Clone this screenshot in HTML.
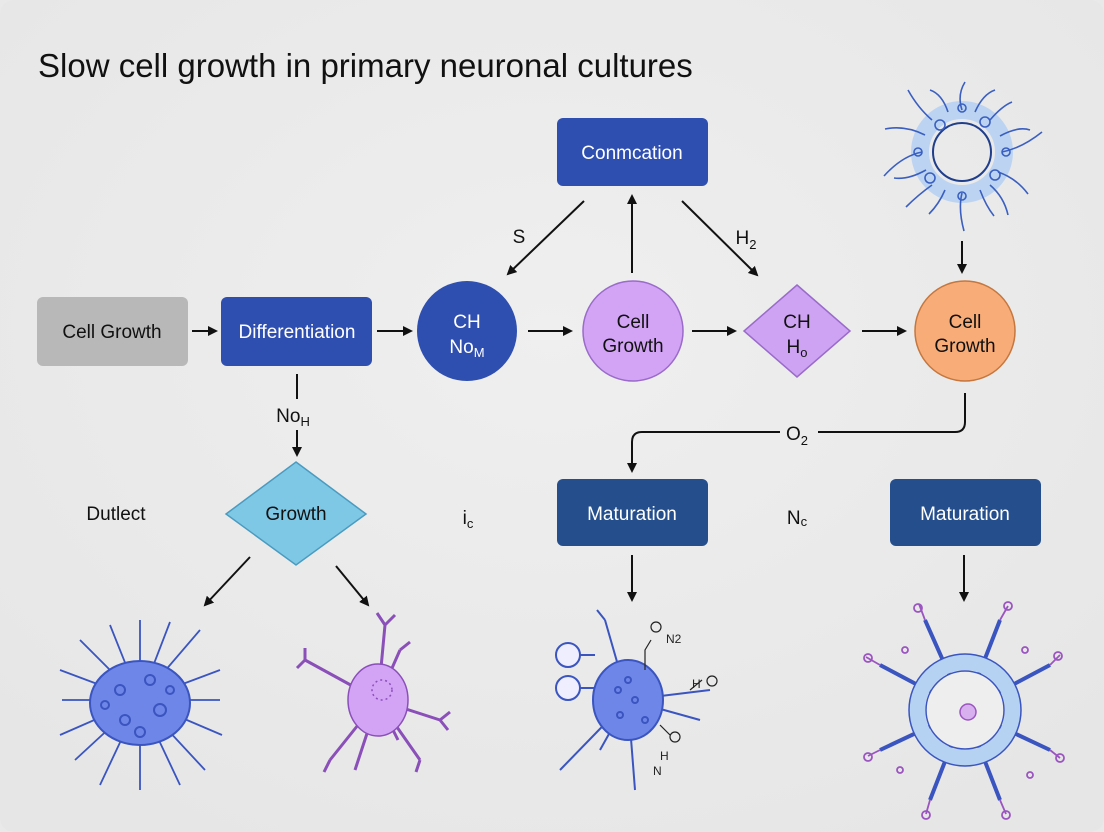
<!DOCTYPE html>
<html><head><meta charset="utf-8"><style>
html,body{margin:0;padding:0;background:#e9e9e9;}
svg{display:block;font-family:"Liberation Sans",sans-serif;}
</style></head><body>
<svg width="1104" height="832" viewBox="0 0 1104 832" xmlns="http://www.w3.org/2000/svg">
<defs>
<marker id="ah" viewBox="0 0 10 10" refX="8" refY="5" markerWidth="5" markerHeight="5" orient="auto"><path d="M0,0 L10,5 L0,10 z" fill="#111"/></marker>
<radialGradient id="bg" cx="50%" cy="40%" r="70%"><stop offset="0" stop-color="#efefef"/><stop offset="1" stop-color="#e6e6e6"/></radialGradient>
</defs>
<rect x="0" y="0" width="1104" height="832" rx="14" fill="url(#bg)"/>
<text x="38" y="77" font-size="33" fill="#111">Slow cell growth in primary neuronal cultures</text>

<g stroke="#111" stroke-width="2" fill="none" marker-end="url(#ah)">
<line x1="192" y1="331" x2="216" y2="331"/>
<line x1="377" y1="331" x2="411" y2="331"/>
<line x1="528" y1="331" x2="571" y2="331"/>
<line x1="692" y1="331" x2="735" y2="331"/>
<line x1="862" y1="331" x2="905" y2="331"/>
<line x1="584" y1="201" x2="508" y2="274"/>
<line x1="632" y1="273" x2="632" y2="196"/>
<line x1="682" y1="201" x2="757" y2="275"/>
<line x1="962" y1="241" x2="962" y2="272"/>
<path d="M780,432 H642 Q632,432 632,442 V471"/>
<line x1="297" y1="430" x2="297" y2="455"/>
<line x1="250" y1="557" x2="205" y2="605"/>
<line x1="336" y1="566" x2="368" y2="605"/>
<line x1="632" y1="555" x2="632" y2="600"/>
<line x1="964" y1="555" x2="964" y2="600"/>
</g>
<path d="M965,393 V422 Q965,432 955,432 H818" stroke="#111" stroke-width="2" fill="none"/>
<line x1="297" y1="374" x2="297" y2="399" stroke="#111" stroke-width="2"/>

<rect x="37" y="297" width="151" height="69" rx="6" fill="#b8b8b8"/>
<text x="112" y="338" font-size="19" text-anchor="middle" fill="#111">Cell Growth</text>
<rect x="221" y="297" width="151" height="69" rx="6" fill="#2f4fb0"/>
<text x="297" y="338" font-size="19" text-anchor="middle" fill="#fff">Differentiation</text>
<circle cx="467" cy="331" r="50" fill="#2f4fb0"/>
<text x="467" y="328" font-size="19" text-anchor="middle" fill="#fff">CH</text>
<text x="467" y="353" font-size="19" text-anchor="middle" fill="#fff">No<tspan font-size="13" dy="4">M</tspan></text>
<circle cx="633" cy="331" r="50" fill="#d3a4f6" stroke="#9a6bc9" stroke-width="1.5"/>
<text x="633" y="328" font-size="19" text-anchor="middle" fill="#111">Cell</text>
<text x="633" y="352" font-size="19" text-anchor="middle" fill="#111">Growth</text>
<polygon points="797,285 850,331 797,377 744,331" fill="#cfa3f4" stroke="#9a6bc9" stroke-width="1.5"/>
<text x="797" y="328" font-size="19" text-anchor="middle" fill="#111">CH</text>
<text x="797" y="353" font-size="19" text-anchor="middle" fill="#111">H<tspan font-size="13" dy="4">o</tspan></text>
<circle cx="965" cy="331" r="50" fill="#f8ad78" stroke="#c5773f" stroke-width="1.5"/>
<text x="965" y="328" font-size="19" text-anchor="middle" fill="#111">Cell</text>
<text x="965" y="352" font-size="19" text-anchor="middle" fill="#111">Growth</text>
<rect x="557" y="118" width="151" height="68" rx="6" fill="#2f4fb0"/>
<text x="632" y="159" font-size="19" text-anchor="middle" fill="#fff">Conmcation</text>
<text x="519" y="243" font-size="19" text-anchor="middle" fill="#111">S</text>
<text x="746" y="244" font-size="19" text-anchor="middle" fill="#111">H<tspan font-size="13" dy="5">2</tspan></text>
<text x="797" y="440" font-size="19" text-anchor="middle" fill="#111">O<tspan font-size="13" dy="5">2</tspan></text>
<text x="293" y="422" font-size="19" text-anchor="middle" fill="#111">No<tspan font-size="13" dy="4">H</tspan></text>

<polygon points="296,462 366,514 296,565 226,514" fill="#7ec8e6" stroke="#4a9bc0" stroke-width="1.5"/>
<text x="296" y="520" font-size="19" text-anchor="middle" fill="#111">Growth</text>
<text x="116" y="520" font-size="19" text-anchor="middle" fill="#111">Dutlect</text>
<text x="468" y="524" font-size="19" text-anchor="middle" fill="#111">i<tspan font-size="13" dy="4">c</tspan></text>
<text x="797" y="524" font-size="19" text-anchor="middle" fill="#111">N<tspan font-size="13" dy="2">c</tspan></text>
<rect x="557" y="479" width="151" height="67" rx="6" fill="#254f8c"/>
<text x="632" y="520" font-size="19" text-anchor="middle" fill="#fff">Maturation</text>
<rect x="890" y="479" width="151" height="67" rx="6" fill="#254f8c"/>
<text x="965" y="520" font-size="19" text-anchor="middle" fill="#fff">Maturation</text>

<!-- top-right neuron -->
<g stroke="#3a5fc0" stroke-width="2" fill="none">
<circle cx="962" cy="152" r="42" stroke="#bcd4f2" stroke-width="18"/>
<circle cx="962" cy="152" r="29" stroke="#1f3e8c"/>
<g stroke-width="1.6">
<path d="M962,110 q-5,-15 3,-28 M990,120 q12,-14 22,-18 M1002,152 q20,-4 40,-20 M990,185 q14,12 18,30 M962,193 q-4,16 2,38 M932,185 q-14,10 -26,22 M922,152 q-20,4 -38,24 M932,120 q-14,-12 -24,-30 M975,112 q8,-18 20,-22 M948,112 q-6,-18 -18,-22 M998,172 q18,6 30,22 M926,170 q-18,10 -32,8 M945,190 q-6,14 -16,24 M980,190 q6,16 14,26 M1000,136 q18,-10 30,-6 M925,135 q-20,-10 -40,-6"/>
<circle cx="940" cy="125" r="5"/><circle cx="985" cy="122" r="5"/><circle cx="995" cy="175" r="5"/><circle cx="930" cy="178" r="5"/><circle cx="962" cy="108" r="4"/><circle cx="962" cy="196" r="4"/><circle cx="918" cy="152" r="4"/><circle cx="1006" cy="152" r="4"/>
</g>
</g>

<!-- bottom neuron 1 blue -->
<g stroke="#3a55c0" stroke-width="2" fill="none">
<g stroke-width="1.8">
<path d="M140,700 L80,640 M140,700 L62,700 M140,700 L75,760 M140,700 L140,620 M140,700 L200,630 M140,700 L220,700 M140,700 L205,770 M140,700 L140,790 M140,700 L110,625 M140,700 L170,622 M140,700 L60,670 M140,700 L220,670 M140,700 L60,735 M140,700 L222,735 M140,700 L100,785 M140,700 L180,785"/>
</g>
<ellipse cx="140" cy="703" rx="50" ry="42" fill="#6e86e8" stroke="#3a55c0"/>
<circle cx="120" cy="690" r="5"/><circle cx="150" cy="680" r="5"/><circle cx="160" cy="710" r="6"/><circle cx="125" cy="720" r="5"/><circle cx="105" cy="705" r="4"/><circle cx="140" cy="732" r="5"/><circle cx="170" cy="690" r="4"/>
</g>

<!-- bottom neuron 2 purple -->
<g stroke="#8a4fb8" stroke-width="3" fill="none">
<path d="M378,700 L385,625 M385,625 l-8,-12 M385,625 l10,-10 M378,700 L305,660 M305,660 l-8,8 M305,660 l0,-12 M378,700 L330,760 M330,760 l-6,12 M378,700 L355,770 M378,700 L440,720 M440,720 l10,-8 M440,720 l8,10 M378,700 L400,650 M400,650 l10,-8 M378,700 L420,760 M420,760 l-4,12 M378,700 L398,740"/>
<ellipse cx="378" cy="700" rx="30" ry="36" fill="#d3a4f6" stroke="#8a4fb8" stroke-width="1.5"/>
<circle cx="382" cy="690" r="10" stroke-dasharray="2 3" stroke-width="1.5"/>
</g>

<!-- bottom neuron 3 -->
<g stroke="#3a55c0" stroke-width="2" fill="none">
<path d="M628,700 L605,620 M605,620 l-8,-10 M628,700 L600,690 M628,700 L560,770 M628,700 L635,790 M628,700 L710,690 M628,700 L700,720 M628,700 L600,750"/>
<line x1="595" y1="655" x2="570" y2="655"/><circle cx="568" cy="655" r="12" fill="#eef"/>
<line x1="605" y1="688" x2="578" y2="688"/><circle cx="568" cy="688" r="12" fill="#eef"/>
<ellipse cx="628" cy="700" rx="35" ry="40" fill="#6e86e8"/>
<circle cx="618" cy="690" r="3"/><circle cx="635" cy="700" r="3"/><circle cx="620" cy="715" r="3"/><circle cx="645" cy="720" r="3"/><circle cx="628" cy="680" r="3"/>
</g>
<g stroke="#222" stroke-width="1.2" fill="none">
<path d="M645,670 v-20 l6,-10"/><circle cx="656" cy="627" r="5"/>
<path d="M690,690 l12,-10"/><circle cx="712" cy="681" r="5"/>
<path d="M660,725 l10,10"/><circle cx="675" cy="737" r="5"/>
</g>
<text x="666" y="643" font-size="12" fill="#222">N2</text>
<text x="692" y="688" font-size="12" fill="#222">H</text>
<text x="660" y="760" font-size="12" fill="#222">H</text>
<text x="653" y="775" font-size="12" fill="#222">N</text>

<!-- bottom neuron 4 ring -->
<g fill="none">
<g stroke="#3a55c0" stroke-width="4">
<path d="M965,710 L925,620 M965,710 L1000,620 M965,710 L880,665 M965,710 L1050,665 M965,710 L880,750 M965,710 L1050,750 M965,710 L930,800 M965,710 L1000,800"/>
</g>
<g stroke="#9a55c0" stroke-width="1.8">
<path d="M925,620 l-6,-16 M1000,620 l8,-14 M880,665 l-14,-8 M1050,665 l10,-10 M880,750 l-12,6 M1050,750 l10,8 M930,800 l-4,14 M1000,800 l6,14"/>
<circle cx="918" cy="608" r="4"/><circle cx="1008" cy="606" r="4"/><circle cx="868" cy="658" r="4"/><circle cx="1058" cy="656" r="4"/><circle cx="868" cy="757" r="4"/><circle cx="1060" cy="758" r="4"/><circle cx="926" cy="815" r="4"/><circle cx="1006" cy="815" r="4"/>
<circle cx="905" cy="650" r="3"/><circle cx="1025" cy="650" r="3"/><circle cx="900" cy="770" r="3"/><circle cx="1030" cy="775" r="3"/>
</g>
<circle cx="965" cy="710" r="48" stroke="#b5d2f2" stroke-width="16"/>
<circle cx="965" cy="710" r="39" stroke="#3a55c0" stroke-width="1.5" fill="#eeeeee"/>
<circle cx="965" cy="710" r="56" stroke="#3a55c0" stroke-width="1.5"/>
<circle cx="968" cy="712" r="8" stroke="#9a55c0" stroke-width="1.5" fill="#d8b0f0"/>
</g>
</svg>
</body></html>
